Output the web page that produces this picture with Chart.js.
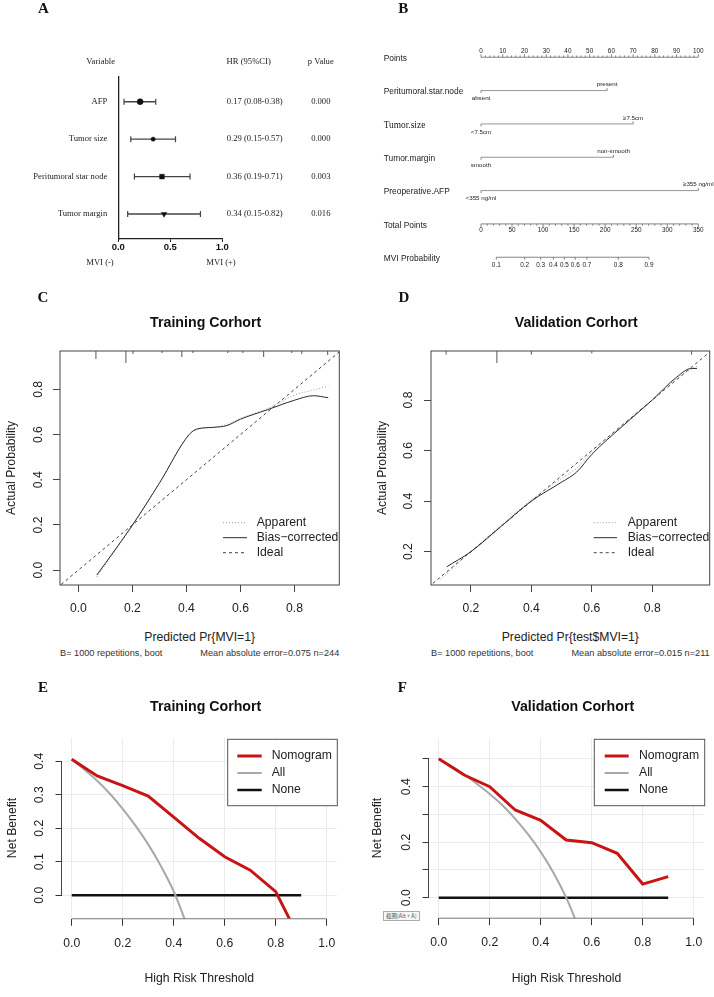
<!DOCTYPE html>
<html>
<head>
<meta charset="utf-8">
<script src="https://cdn.jsdelivr.net/npm/chart.js@4.4.1/dist/chart.umd.min.js"></script>
<style>
  body { margin: 0; background: #fff; }
  #fig { position: relative; width: 714px; height: 997px; overflow: hidden; background: #fff; }
  canvas { position: absolute; }
  .t { position: absolute; white-space: nowrap; transform: translate(-50%, -50%);
       font-family: "Liberation Sans", Arial, sans-serif; color: #222; line-height: 1; }
</style>
</head>
<body>
<div id="fig"></div>
<script>
// ---- A: forest plot
const forestVars = ['AFP', 'Tumor size', 'Peritumoral star node', 'Tumor margin'];
const forestHR = [0.21, 0.335, 0.42, 0.44];
const forestLo = [0.055, 0.12, 0.155, 0.09];
const forestHi = [0.36, 0.55, 0.69, 0.79];
const forestText = ['0.17 (0.08-0.38)', '0.29 (0.15-0.57)', '0.36 (0.19-0.71)', '0.34 (0.15-0.82)'];
const forestP = ['0.000', '0.000', '0.003', '0.016'];
const forestTicks = [0, 0.5, 1.0];

// ---- B: nomogram
const nomoRows = ['Points', 'Peritumoral.star.node', 'Tumor.size', 'Tumor.margin', 'Preoperative.AFP', 'Total Points', 'MVI Probability'];
const nomoPoints = [58, 70, 61, 100];
const nomoLow = ['absent', '<7.5cm', 'smooth', '<355 ng/ml'];
const nomoHigh = ['present', '≥7.5cm', 'non-smooth', '≥355 ng/ml'];
const pointsTicks = [0, 10, 20, 30, 40, 50, 60, 70, 80, 90, 100];
const totalTicks = [0, 50, 100, 150, 200, 250, 300, 350];
const probTicks = [0.1, 0.2, 0.3, 0.4, 0.5, 0.6, 0.7, 0.8, 0.9];
const probAtTotal = [24.6, 70.4, 96.2, 116.5, 134.2, 151.9, 170.7, 221.1, 270.6];

// ---- C: calibration, training
const calPredC = [0.068, 0.13, 0.2, 0.3, 0.41, 0.44, 0.5, 0.55, 0.6, 0.7, 0.8, 0.87, 0.925];
const calBiasC = [-0.022, 0.08, 0.199, 0.385, 0.60, 0.625, 0.632, 0.64, 0.668, 0.71, 0.752, 0.772, 0.763];
const calAppC = [-0.03, 0.075, 0.195, 0.385, 0.60, 0.622, 0.632, 0.645, 0.672, 0.715, 0.775, 0.797, 0.815];
const rugC = [0.065, 0.176, 0.202, 0.31, 0.383, 0.424, 0.553, 0.609, 0.686, 0.79, 0.827, 0.923];
const rugFreqC = [0.67, 1, 0.25, 0.17, 0.5, 0.17, 0.17, 0.17, 0.5, 0.17, 0.25, 0.33];
const calTicksC = [0, 0.2, 0.4, 0.6, 0.8];

// ---- D: calibration, validation
const calPredD = [0.12, 0.2, 0.3, 0.4, 0.5, 0.55, 0.6, 0.7, 0.8, 0.88, 0.93, 0.948];
const calBiasD = [0.14, 0.2, 0.3, 0.4, 0.475, 0.515, 0.585, 0.695, 0.8, 0.89, 0.925, 0.925];
const calPredAppD = [0.1, 0.2, 0.3, 0.4, 0.5, 0.55, 0.6, 0.7, 0.8, 0.88, 0.95];
const calAppD = [0.09, 0.2, 0.305, 0.405, 0.49, 0.53, 0.595, 0.7, 0.8, 0.885, 0.935];
const rugD = [0.118, 0.286, 0.4, 0.6, 0.93];
const rugFreqD = [0.3, 1, 0.3, 0.2, 0.3];
const calTicksD = [0.2, 0.4, 0.6, 0.8];

// ---- E / F: decision curves
const thresholds = [0, 0.1, 0.2, 0.3, 0.4, 0.5, 0.6, 0.7, 0.8, 0.9];
const nomoE = [0.406, 0.356, 0.327, 0.296, 0.233, 0.170, 0.115, 0.075, 0.011, -0.14];
const allThrE = [0, 0.05, 0.1, 0.15, 0.2, 0.25, 0.3, 0.35, 0.4, 0.45];
const allE = [0.406, 0.375, 0.342, 0.303, 0.258, 0.208, 0.152, 0.087, 0.012, -0.085];
const nomoF = [0.501, 0.442, 0.4, 0.316, 0.279, 0.208, 0.198, 0.16, 0.049, 0.076];
const allThrF = [0, 0.05, 0.1, 0.15, 0.2, 0.25, 0.3, 0.35, 0.4, 0.45, 0.5, 0.55];
const allF = [0.5, 0.474, 0.444, 0.41, 0.374, 0.333, 0.284, 0.229, 0.165, 0.09, 0.0, -0.11];
const noneThr = [0, 0.9];
const noneNB = [0, 0];
const dcaXTicks = [0, 0.2, 0.4, 0.6, 0.8, 1.0];
const dcaYTicksE = [0, 0.1, 0.2, 0.3, 0.4];
const dcaYTicksF = [0, 0.1, 0.2, 0.3, 0.4, 0.5];
const dcaYLabelsF = [0, 0.2, 0.4];

const SANS = '"Liberation Sans", Arial, sans-serif';
const SERIF = '"Liberation Serif", "Times New Roman", serif';
Chart.defaults.font.family = SANS;
Chart.defaults.color = '#222';
Chart.defaults.animation = false;
Chart.defaults.events = [];
Chart.defaults.responsive = false;
Chart.defaults.devicePixelRatio = 1;
Chart.defaults.plugins.legend.display = false;
Chart.defaults.plugins.tooltip.enabled = false;

const fig = document.getElementById('fig');

function makeCanvas(left, top, w, h) {
  const c = document.createElement('canvas');
  c.width = w; c.height = h;
  c.style.left = left + 'px'; c.style.top = top + 'px';
  c.style.width = w + 'px'; c.style.height = h + 'px';
  fig.appendChild(c);
  return c;
}
function label(str, x, y, css) {
  const d = document.createElement('div');
  d.className = 't';
  d.textContent = str;
  d.style.left = x + 'px'; d.style.top = y + 'px';
  Object.assign(d.style, css || {});
  fig.appendChild(d);
}
// chart area [left, top, right, bottom]; the bottom strip belongs to the x scale
const pad = (w, a) => ({ left: a[0], top: a[1], right: w - a[2], bottom: 0 });
const xHeight = hgt => s => { s.height = hgt; };
const noWidth = s => { s.width = 0; };
const fixTicks = vals => s => { s.ticks = vals.map(v => ({ value: v })); };
const pts = (xs, ys) => xs.map((x, i) => ({ x: x, y: ys[i] }));

function seg(ctx, x0, y0, x1, y1) {
  ctx.beginPath(); ctx.moveTo(x0, y0); ctx.lineTo(x1, y1); ctx.stroke();
}
function yLabels(chart, x, vals, font) {
  const ctx = chart.ctx, ys = chart.scales.y;
  ctx.save();
  ctx.font = font; ctx.fillStyle = '#222';
  ctx.textAlign = 'center'; ctx.textBaseline = 'middle';
  vals.forEach(v => {
    ctx.save();
    ctx.translate(x, ys.getPixelForValue(v));
    ctx.rotate(-Math.PI / 2);
    ctx.fillText(v.toFixed(1), 0, 0);
    ctx.restore();
  });
  ctx.restore();
}

// ================= A =================
(function () {
  const W = 357, H = 275, area = [118.3, 76.7, 222.3, 239];
  const datasets = forestVars.map((v, i) => ({
    data: [{ x: forestLo[i], y: i + 1 }, { x: forestHi[i], y: i + 1 }],
    showLine: true, borderColor: '#444', borderWidth: 1.4,
    pointStyle: 'line', rotation: 90, pointRadius: 3, pointBorderColor: '#444', pointBorderWidth: 1.2
  }));
  datasets.unshift({
    data: forestHR.map((v, i) => ({ x: v, y: i + 1 })),
    pointStyle: ['circle', 'circle', 'rect', 'triangle'],
    rotation: [0, 0, 0, 180],
    pointRadius: [3, 2.1, 3.3, 3.2],
    backgroundColor: '#111', borderColor: '#111', borderWidth: 0.5
  });
  new Chart(makeCanvas(0, 0, W, H), {
    type: 'scatter',
    data: { datasets: datasets },
    options: {
      layout: { padding: pad(W, area) },
      scales: {
        x: {
          min: 0, max: 1, afterFit: xHeight(H - area[3]), afterBuildTicks: fixTicks(forestTicks),
          grid: { drawOnChartArea: false, tickLength: 3, color: '#222' },
          border: { display: true, color: '#222', width: 1.3 },
          ticks: { padding: 0, autoSkip: false, maxRotation: 0, font: { size: 9.5, weight: 'bold' }, color: '#111',
                   callback: v => v.toFixed(1) }
        },
        y: {
          min: 0.333, max: 4.666, reverse: true, afterFit: noWidth,
          grid: { display: false },
          border: { display: true, color: '#222', width: 1.3 },
          ticks: { display: false }
        }
      }
    },
    plugins: [{
      id: 'forestText',
      afterDraw(chart) {
        const { ctx, scales: { y } } = chart;
        ctx.save();
        ctx.font = '8.6px ' + SERIF; ctx.fillStyle = '#222'; ctx.textBaseline = 'middle';
        forestVars.forEach((v, i) => {
          const py = y.getPixelForValue(i + 1);
          ctx.textAlign = 'right'; ctx.fillText(v, 107.3, py);
          ctx.textAlign = 'left'; ctx.fillText(forestText[i], 226.7, py);
          ctx.textAlign = 'center'; ctx.fillText(forestP[i], 320.8, py);
        });
        ctx.restore();
      }
    }]
  });
  const serif = { fontFamily: SERIF, fontSize: '8.6px' };
  label('Variable', 100.7, 61, serif);
  label('HR (95%CI)', 248.7, 61, serif);
  label('p Value', 320.8, 61, serif);
  label('MVI (-)', 100, 262, serif);
  label('MVI (+)', 221, 262, serif);
})();

// ================= B =================
(function () {
  const W = 357, H = 275;
  new Chart(makeCanvas(357, 0, W, H), {
    type: 'scatter',
    data: {
      datasets: nomoPoints.map((p, i) => ({
        data: [{ x: 0, y: i + 1 }, { x: p, y: i + 1 }],
        showLine: true, borderColor: '#8a8a8a', borderWidth: 0.9, pointRadius: 0
      }))
    },
    options: {
      layout: { padding: { left: 124, top: 40.6, right: W - 341.3, bottom: H - 273.9 } },
      scales: {
        x: { display: false, min: 0, max: 100 },
        y: { display: false, min: -0.5, max: 6.5, reverse: true }
      }
    },
    plugins: [{
      id: 'nomogram',
      afterDraw(chart) {
        const { ctx, scales: { x, y } } = chart;
        ctx.save();
        ctx.fillStyle = '#222'; ctx.strokeStyle = '#666'; ctx.lineWidth = 0.8;
        ctx.textBaseline = 'middle';
        // row names
        ctx.textAlign = 'left';
        nomoRows.forEach((r, i) => {
          ctx.font = r === 'Tumor.size' ? '9.4px ' + SERIF : '8.4px ' + SANS;
          ctx.fillText(r, 26.7, y.getPixelForValue(i) + 1.5);
        });
        ctx.textAlign = 'center';
        // Points axis
        let py = y.getPixelForValue(0);
        seg(ctx, x.getPixelForValue(0), py, x.getPixelForValue(100), py);
        for (let v = 0; v <= 100; v += 2) {
          const px = x.getPixelForValue(v);
          seg(ctx, px, py, px, py - (v % 10 === 0 ? 3 : 1.8));
        }
        ctx.font = '6.4px ' + SANS;
        pointsTicks.forEach(v => ctx.fillText(String(v), x.getPixelForValue(v), py - 6));
        // factor labels
        ctx.font = '6.2px ' + SANS;
        nomoPoints.forEach((p, i) => {
          const ry = y.getPixelForValue(i + 1);
          const x0 = x.getPixelForValue(0), x1 = x.getPixelForValue(p);
          seg(ctx, x0, ry, x0, ry + 2.5);
          seg(ctx, x1, ry, x1, ry - 2.5);
          ctx.fillText(nomoLow[i], x0, ry + 8);
          ctx.fillText(nomoHigh[i], x1, ry - 6);
        });
        // Total points axis
        py = y.getPixelForValue(5);
        seg(ctx, x.getPixelForValue(0), py, x.getPixelForValue(100), py);
        for (let t = 0; t <= 350; t += 10) {
          const px = x.getPixelForValue(t / 3.5);
          seg(ctx, px, py, px, py + (t % 50 === 0 ? 3 : 1.8));
        }
        ctx.font = '6.4px ' + SANS;
        totalTicks.forEach(t => ctx.fillText(String(t), x.getPixelForValue(t / 3.5), py + 6.4));
        // probability axis
        py = y.getPixelForValue(6);
        const first = x.getPixelForValue(probAtTotal[0] / 3.5);
        const last = x.getPixelForValue(probAtTotal[probAtTotal.length - 1] / 3.5);
        seg(ctx, first, py, last, py);
        probTicks.forEach((p, i) => {
          const px = x.getPixelForValue(probAtTotal[i] / 3.5);
          seg(ctx, px, py, px, py + 2.5);
          ctx.fillText(p.toFixed(1), px, py + 7.7);
        });
        ctx.restore();
      }
    }]
  });
})();

// ================= C / D : calibration =================
function calChart(left, cfg) {
  const W = 357, H = 340;
  new Chart(makeCanvas(left, 280, W, H), {
    type: 'scatter',
    data: {
      datasets: [
        { label: 'Apparent', data: pts(cfg.appX, cfg.app), showLine: true, pointRadius: 0,
          borderColor: '#9a9a9a', borderWidth: 1, borderDash: [1, 2], cubicInterpolationMode: 'monotone', order: 1 },
        { label: 'Bias\u2212corrected', data: pts(cfg.biasX, cfg.bias), showLine: true, pointRadius: 0,
          borderColor: '#2a2a2a', borderWidth: 1, cubicInterpolationMode: 'monotone', order: 0 },
        { label: 'Ideal', data: [{ x: -0.2, y: -0.2 }, { x: 1.1, y: 1.1 }], showLine: true, pointRadius: 0,
          borderColor: '#444', borderWidth: 1, borderDash: [3, 3], order: 2 }
      ]
    },
    options: {
      layout: { padding: pad(W, cfg.area) },
      scales: {
        x: {
          min: cfg.xr[0], max: cfg.xr[1], afterFit: xHeight(H - cfg.area[3]), afterBuildTicks: fixTicks(cfg.ticks),
          grid: { drawOnChartArea: false, tickLength: 7, color: '#444' },
          border: { display: false },
          ticks: { padding: 9, autoSkip: false, maxRotation: 0, font: { size: 12.2 }, color: '#222', callback: v => v.toFixed(1) }
        },
        y: {
          min: cfg.yr[0], max: cfg.yr[1], afterFit: noWidth, afterBuildTicks: fixTicks(cfg.ticks),
          grid: { drawOnChartArea: false, tickLength: 7, color: '#444' },
          border: { display: false },
          ticks: { display: false }
        }
      }
    },
    plugins: [{
      id: 'calDecor',
      afterDraw(chart) {
        const { ctx, chartArea: a, scales: { x } } = chart;
        ctx.save();
        ctx.strokeStyle = '#444'; ctx.lineWidth = 1;
        ctx.strokeRect(a.left, a.top, a.right - a.left, a.bottom - a.top);
        // spike histogram of predictions along the top
        ctx.strokeStyle = '#555';
        cfg.rug.forEach((v, i) => {
          const px = x.getPixelForValue(v);
          seg(ctx, px, a.top, px, a.top + cfg.rugFreq[i] * 12);
        });
        // legend
        ctx.font = '12.2px ' + SANS; ctx.textAlign = 'left'; ctx.textBaseline = 'middle';
        chart.data.datasets.forEach((ds, i) => {
          const ly = cfg.legY + i * 15;
          ctx.strokeStyle = ds.borderColor; ctx.lineWidth = ds.borderWidth;
          ctx.setLineDash(ds.borderDash || []);
          seg(ctx, cfg.legX[0], ly, cfg.legX[1], ly);
          ctx.setLineDash([]);
          ctx.fillStyle = '#222';
          ctx.fillText(ds.label, cfg.legX[2], ly);
        });
        ctx.restore();
        yLabels(chart, cfg.yLabX, cfg.ticks, '12.2px ' + SANS);
      }
    }]
  });
}

calChart(0, {
  appX: calPredC, app: calAppC, biasX: calPredC, bias: calBiasC,
  rug: rugC, rugFreq: rugFreqC, ticks: calTicksC,
  area: [60, 71, 339.3, 305], xr: [-0.068, 0.966], yr: [-0.066, 0.97],
  legX: [223, 247, 256.7], legY: 242.7, yLabX: 38.3
});
calChart(357, {
  appX: calPredAppD, app: calAppD, biasX: calPredD, bias: calBiasD,
  rug: rugD, rugFreq: rugFreqD, ticks: calTicksD,
  area: [74, 71, 352.7, 305], xr: [0.068, 0.99], yr: [0.068, 0.994],
  legX: [236.7, 260, 270.7], legY: 242.7, yLabX: 51.7
});

// ================= E / F : decision curves =================
function dcaChart(left, cfg) {
  const W = 357, H = 337;
  new Chart(makeCanvas(left, 660, W, H), {
    type: 'scatter',
    data: {
      datasets: [
        { label: 'Nomogram', data: pts(thresholds, cfg.nomo), showLine: true, pointRadius: 0,
          borderColor: '#c81414', borderWidth: 3 },
        { label: 'All', data: pts(cfg.allX, cfg.all), showLine: true, pointRadius: 0,
          borderColor: '#a8a8a8', borderWidth: 2, cubicInterpolationMode: 'monotone' },
        { label: 'None', data: pts(noneThr, noneNB), showLine: true, pointRadius: 0,
          borderColor: '#111', borderWidth: 2.5 }
      ]
    },
    options: {
      layout: { padding: pad(W, cfg.area) },
      scales: {
        x: {
          min: -0.04, max: 1.04, afterFit: xHeight(H - cfg.area[3]), afterBuildTicks: fixTicks(dcaXTicks),
          grid: { color: '#ebebeb', tickColor: '#333', tickLength: 7 },
          border: { display: false },
          ticks: { padding: 10.2, autoSkip: false, maxRotation: 0, font: { size: 12.2 }, color: '#222', callback: v => v.toFixed(1) }
        },
        y: {
          min: cfg.yr[0], max: cfg.yr[1], afterFit: noWidth, afterBuildTicks: fixTicks(cfg.yTicks),
          grid: { color: '#ebebeb', tickColor: '#333', tickLength: 6 },
          border: { display: false },
          ticks: { display: false }
        }
      }
    },
    plugins: [{
      id: 'dcaDecor',
      afterDraw(chart) {
        const { ctx, chartArea: a, scales: { x, y } } = chart;
        ctx.save();
        ctx.lineWidth = 1;
        ctx.strokeStyle = '#777';
        seg(ctx, x.getPixelForValue(dcaXTicks[0]), a.bottom, x.getPixelForValue(dcaXTicks[dcaXTicks.length - 1]), a.bottom);
        ctx.strokeStyle = '#444';
        seg(ctx, a.left, y.getPixelForValue(cfg.yTicks[0]), a.left, y.getPixelForValue(cfg.yTicks[cfg.yTicks.length - 1]));
        // legend box
        const b = cfg.legBox;
        ctx.fillStyle = '#fff';
        ctx.fillRect(b[0], b[1], b[2] - b[0], b[3] - b[1]);
        ctx.strokeStyle = '#555';
        ctx.strokeRect(b[0], b[1], b[2] - b[0], b[3] - b[1]);
        ctx.font = '12.2px ' + SANS; ctx.textAlign = 'left'; ctx.textBaseline = 'middle';
        chart.data.datasets.forEach((ds, i) => {
          const ly = b[1] + 16.7 + i * 17;
          ctx.strokeStyle = ds.borderColor; ctx.lineWidth = ds.borderWidth;
          seg(ctx, cfg.legX[0], ly, cfg.legX[1], ly);
          ctx.fillStyle = '#222';
          ctx.fillText(ds.label, cfg.legX[2], ly);
        });
        ctx.restore();
        yLabels(chart, cfg.yLabX, cfg.yLabels, '12.2px ' + SANS);
      }
    }]
  });
}

dcaChart(0, {
  nomo: nomoE, allX: allThrE, all: allE, yr: [-0.07, 0.47], yTicks: dcaYTicksE, yLabels: dcaYTicksE,
  area: [61.5, 77.8, 336.9, 258.75], legBox: [227.7, 79.3, 337.3, 145.7], legX: [237.3, 261.7, 271.7], yLabX: 40
});
dcaChart(357, {
  nomo: nomoF, allX: allThrF, all: allF, yr: [-0.074, 0.574], yTicks: dcaYTicksF, yLabels: dcaYLabelsF,
  area: [71.5, 78.4, 346.9, 258.2], legBox: [237.3, 79.3, 347.7, 145.7], legX: [247.7, 271.7, 282], yLabX: 50
});

// ================= text =================
const letter = { fontFamily: SERIF, fontWeight: 'bold', fontSize: '15px', color: '#111' };
label('A', 43.5, 8, letter);
label('B', 403.3, 8, letter);
label('C', 43, 296.7, letter);
label('D', 404, 296.7, letter);
label('E', 43, 687, letter);
label('F', 402.3, 687, letter);

const title = { fontWeight: 'bold', fontSize: '14.2px', color: '#111' };
label('Training Corhort', 205.7, 322.3, title);
label('Validation Corhort', 576.2, 322.3, title);
label('Training Corhort', 205.7, 705.7, title);
label('Validation Corhort', 572.7, 705.7, title);

const axisT = { fontSize: '12.2px' };
const rot = { fontSize: '12.2px', transform: 'translate(-50%, -50%) rotate(-90deg)' };
label('Actual Probability', 10.5, 468, rot);
label('Actual Probability', 382, 468, rot);
label('Net Benefit', 12, 828.3, rot);
label('Net Benefit', 377.3, 828.3, rot);
label('Predicted Pr{MVI=1}', 199.7, 637.3, axisT);
label('Predicted Pr{test$MVI=1}', 570.3, 637.3, axisT);
label('High Risk Threshold', 199.3, 977.7, axisT);
label('High Risk Threshold', 566.5, 977.7, axisT);

const sub = { fontSize: '9.2px', color: '#333', transform: 'translate(0, -50%)' };
const subR = { fontSize: '9.2px', color: '#333', transform: 'translate(-100%, -50%)' };
label('B= 1000 repetitions, boot', 60, 654, sub);
label('Mean absolute error=0.075 n=244', 339.3, 654, subR);
label('B= 1000 repetitions, boot', 431, 654, sub);
label('Mean absolute error=0.015 n=211', 709.7, 654, subR);

label('截图(Alt + A)', 383, 911, {
  transform: 'none', fontFamily: '"Noto Sans CJK SC", sans-serif', fontSize: '5.5px', color: '#555',
  border: '1px solid #aaa', background: '#f6f6f6', padding: '1px 2px', lineHeight: '6px'
});
</script>
</body>
</html>
